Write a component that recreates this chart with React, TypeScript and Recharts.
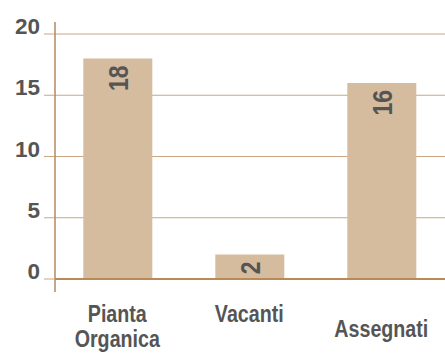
import React from "react";
import {
  BarChart,
  Bar,
  XAxis,
  YAxis,
  CartesianGrid,
  LabelList,
  Customized,
} from "recharts";

// Staff figures
const CATEGORIES = ["Pianta Organica", "Vacanti", "Assegnati"];
const VALUES = [18, 2, 16];
const Y_TICKS = [0, 5, 10, 15, 20];

const data = CATEGORIES.map((name, i) => ({ name, value: VALUES[i] }));

// Layout
const WIDTH = 445;
const HEIGHT = 356;
const MARGIN = { top: 34, right: 0, left: 0, bottom: 0 };
const Y_AXIS_W = 55;
const X_AXIS_H = 77;
const LABEL_DROP = [0, 0, 15];
const NARROW_SCALE = 0.82; // condensed look for the label face

// Colours and fonts
const BAR_FILL = "#d5bc9e";
const GRID = "#c9a681";
const AXIS = "#a06c3c";
const BASE = "#b98a55";
const TEXT = "#555555";
const SANS = "'Liberation Sans', Arial, sans-serif";

const YTick = (props: any) => {
  const { x, y, payload } = props;
  return (
    <text
      x={x}
      y={y}
      textAnchor="end"
      fill={TEXT}
      fontFamily={SANS}
      fontWeight="bold"
      fontSize={22.5}
    >
      {payload.value}
    </text>
  );
};

const XTick = (props: any) => {
  const { x, y, payload, index } = props;
  const lines = String(payload.value).split(" ");
  const drop = LABEL_DROP[index] ?? 0;
  return (
    <g transform={`translate(${x} ${y}) scale(${NARROW_SCALE} 1)`}>
      <text
        x={0}
        y={0}
        textAnchor="middle"
        fill={TEXT}
        fontFamily={SANS}
        fontWeight="bold"
        fontSize={24}
      >
        {lines.map((line, i) => (
          <tspan key={i} x={0} y={43 + drop + i * 25}>
            {line}
          </tspan>
        ))}
      </text>
    </g>
  );
};

const ValueLabel = (props: any) => {
  const { x, y, width, value } = props;
  const cx = Number(x) + Number(width) / 2;
  const ty = Number(y) + 7;
  return (
    <g transform={`translate(${cx} ${ty}) rotate(-90) scale(${NARROW_SCALE} 1)`}>
      <text
        x={0}
        y={0}
        textAnchor="end"
        dy="0.36em"
        fill={TEXT}
        fontFamily={SANS}
        fontWeight="bold"
        fontSize={28}
      >
        {value}
      </text>
    </g>
  );
};

// Vertical axis rule that overshoots the plot at both ends
const YRule = () => {
  const top = MARGIN.top - 12;
  const bottom = HEIGHT - MARGIN.bottom - X_AXIS_H + 13;
  return (
    <line
      x1={Y_AXIS_W}
      x2={Y_AXIS_W}
      y1={top}
      y2={bottom}
      stroke={AXIS}
      strokeWidth={1.2}
    />
  );
};

export default function App() {
  return (
    <div style={{ position: "absolute", left: 0, top: 0, background: "#fff" }}>
      <BarChart width={WIDTH} height={HEIGHT} data={data} margin={MARGIN}>
        <CartesianGrid horizontal vertical={false} stroke={GRID} />
        <XAxis
          dataKey="name"
          height={X_AXIS_H}
          tickLine={false}
          tickSize={0}
          tickMargin={0}
          axisLine={{ stroke: BASE, strokeWidth: 2 }}
          padding={{ left: -3.7, right: -2.3 }}
          interval={0}
          tick={<XTick />}
        />
        <YAxis
          width={Y_AXIS_W}
          domain={[0, 20]}
          ticks={Y_TICKS}
          interval={0}
          axisLine={false}
          tickSize={11}
          tickMargin={4}
          tickLine={{ stroke: GRID }}
          tick={<YTick />}
        />
        <Bar dataKey="value" fill={BAR_FILL} barSize={69} isAnimationActive={false}>
          <LabelList dataKey="value" content={<ValueLabel />} />
        </Bar>
        <Customized component={<YRule />} />
      </BarChart>
    </div>
  );
}
